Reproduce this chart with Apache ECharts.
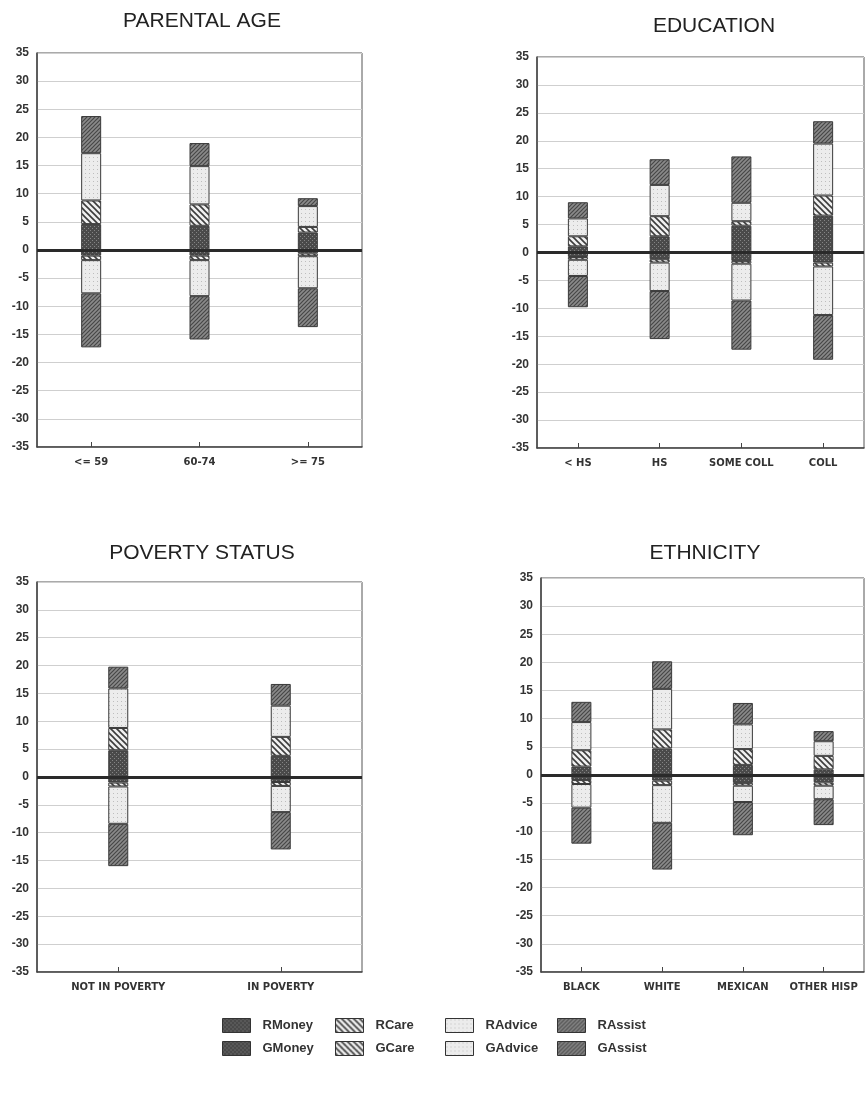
<!DOCTYPE html>
<html>
<head>
<meta charset="utf-8">
<script src="https://cdn.jsdelivr.net/npm/echarts@6/dist/echarts.min.js"></script>
<style>
html,body{margin:0;padding:0;background:#fff;}
#chart{width:865px;height:1113px;}
</style>
</head>
<body>
<div id="chart"></div>
<script>
// ---------- DATA ----------
const typeNames = ['Money', 'Care', 'Advice', 'Assist'];
const yTicks = [-35, 35, 5];

const ageCats = ['<= 59', '60-74', '>= 75'];
const ageGMoney = [4.6, 4.3, 3.1];
const ageGCare = [4.2, 3.8, 1.0];
const ageGAdvice = [8.4, 6.8, 3.7];
const ageGAssist = [6.6, 4.1, 1.4];
const ageRMoney = [-1.0, -1.0, -0.6];
const ageRCare = [-0.8, -0.8, -0.5];
const ageRAdvice = [-5.9, -6.4, -5.7];
const ageRAssist = [-9.6, -7.7, -6.9];

const eduCats = ['< HS', 'HS', 'SOME COLL', 'COLL'];
const eduGMoney = [1.1, 2.9, 4.8, 6.6];
const eduGCare = [1.8, 3.6, 0.8, 3.6];
const eduGAdvice = [3.2, 5.6, 3.3, 9.3];
const eduGAssist = [2.9, 4.6, 8.3, 4.0];
const eduRMoney = [-0.8, -1.2, -1.5, -1.8];
const eduRCare = [-0.5, -0.6, -0.5, -0.7];
const eduRAdvice = [-2.9, -5.1, -6.6, -8.7];
const eduRAssist = [-5.6, -8.6, -8.8, -8.0];

const povCats = ['NOT IN POVERTY', 'IN POVERTY'];
const povGMoney = [4.8, 3.8];
const povGCare = [4.0, 3.4];
const povGAdvice = [7.1, 5.6];
const povGAssist = [3.9, 3.9];
const povRMoney = [-1.0, -0.9];
const povRCare = [-0.7, -0.7];
const povRAdvice = [-6.7, -4.7];
const povRAssist = [-7.6, -6.7];

const ethCats = ['BLACK', 'WHITE', 'MEXICAN', 'OTHER HISP'];
const ethGMoney = [1.5, 4.7, 1.8, 1.0];
const ethGCare = [2.9, 3.4, 2.8, 2.4];
const ethGAdvice = [5.0, 7.2, 4.4, 2.6];
const ethGAssist = [3.6, 4.9, 3.8, 1.8];
const ethRMoney = [-0.9, -1.0, -1.4, -1.3];
const ethRCare = [-0.7, -0.8, -0.5, -0.6];
const ethRAdvice = [-4.2, -6.7, -2.9, -2.4];
const ethRAssist = [-6.4, -8.3, -5.9, -4.6];

const panelTitles = ['PARENTAL AGE', 'EDUCATION', 'POVERTY STATUS', 'ETHNICITY'];

// ---------- PATTERNS ----------
function makePattern(kind) {
  const c = document.createElement('canvas');
  const s = kind === 'Care' ? 6 : 4;
  c.width = s; c.height = s;
  const g = c.getContext('2d');
  if (kind === 'Money') {
    g.fillStyle = '#4a4a4a'; g.fillRect(0, 0, s, s);
    g.fillStyle = '#858585'; g.fillRect(0, 0, 1, 1); g.fillRect(2, 2, 1, 1);
  } else if (kind === 'Care') {
    g.fillStyle = '#f0f0f0'; g.fillRect(0, 0, s, s);
    g.strokeStyle = '#3c3c3c'; g.lineWidth = 1.6;
    g.beginPath();
    g.moveTo(-1, -1); g.lineTo(s + 1, s + 1);
    g.moveTo(-1, s - 1); g.lineTo(1, s + 1);
    g.moveTo(s - 1, -1); g.lineTo(s + 1, 1);
    g.stroke();
  } else if (kind === 'Advice') {
    g.fillStyle = '#ececec'; g.fillRect(0, 0, s, s);
    g.fillStyle = '#bdbdbd'; g.fillRect(1, 1, 1, 1);
  } else {
    g.fillStyle = '#8a8a8a'; g.fillRect(0, 0, s, s);
    g.strokeStyle = '#474747'; g.lineWidth = 1.2;
    g.beginPath();
    g.moveTo(-1, s + 1); g.lineTo(s + 1, -1);
    g.moveTo(-1, 1); g.lineTo(1, -1);
    g.moveTo(s - 1, s + 1); g.lineTo(s + 1, s - 1);
    g.stroke();
  }
  return { image: c, repeat: 'repeat' };
}
const patterns = {};
typeNames.forEach(t => patterns[t] = makePattern(t));

// ---------- PANELS ----------
const panels = [
  { cats: ageCats, G: [ageGMoney, ageGCare, ageGAdvice, ageGAssist], R: [ageRMoney, ageRCare, ageRAdvice, ageRAssist] },
  { cats: eduCats, G: [eduGMoney, eduGCare, eduGAdvice, eduGAssist], R: [eduRMoney, eduRCare, eduRAdvice, eduRAssist] },
  { cats: povCats, G: [povGMoney, povGCare, povGAdvice, povGAssist], R: [povRMoney, povRCare, povRAdvice, povRAssist] },
  { cats: ethCats, G: [ethGMoney, ethGCare, ethGAdvice, ethGAssist], R: [ethRMoney, ethRCare, ethRAdvice, ethRAssist] }
];
const grids = [
  { left: 37, top: 53, width: 325, height: 394 },
  { left: 537, top: 57, width: 327, height: 391 },
  { left: 37, top: 582, width: 325, height: 390 },
  { left: 541, top: 578, width: 323, height: 394 }
];
const titlePos = [
  { left: 197, top: 6 }, { left: 709, top: 11 }, { left: 197, top: 538 }, { left: 700, top: 538 }
];
const FONT = 'Liberation Sans, Arial, Helvetica, sans-serif';
const LFONT = 'DejaVu Sans, Liberation Sans, sans-serif';

const option = {
  backgroundColor: '#ffffff',
  animation: false,
  title: panelTitles.map((t, i) => ({
    text: t, left: titlePos[i].left, top: titlePos[i].top, textAlign: 'center',
    textStyle: { fontFamily: FONT, fontSize: 21, fontWeight: 'normal', color: '#222' }
  })),
  grid: grids.map(g => Object.assign({ show: true, borderColor: '#555', borderWidth: 1, backgroundColor: 'transparent' }, g)),
  xAxis: panels.map((p, i) => ({
    type: 'category', gridIndex: i, data: p.cats,
    axisLine: { show: true, onZero: false, lineStyle: { color: '#444', width: 1.5 } },
    axisTick: { show: true, alignWithLabel: true, inside: true, length: 5, lineStyle: { color: '#444' } },
    axisLabel: { fontFamily: LFONT, fontSize: 10, fontWeight: 'bold', color: '#333', margin: 10, interval: 0 },
    splitLine: { show: false }
  })),
  yAxis: panels.map((p, i) => ({
    type: 'value', gridIndex: i, min: yTicks[0], max: yTicks[1], interval: yTicks[2],
    axisLine: { show: true, lineStyle: { color: '#444', width: 1.5 } },
    axisTick: { show: false },
    axisLabel: { fontFamily: FONT, fontSize: 12, fontWeight: 'bold', color: '#333', margin: 8 },
    splitLine: { show: true, lineStyle: { color: '#cfcfcf', width: 1 } }
  })),
  legend: typeNames.map((t, k) => ({
    orient: 'vertical',
    left: [222, 335, 445, 557][k], top: 1018, padding: 0,
    itemWidth: 28, itemHeight: 14, itemGap: 8,
    icon: 'rect',
    data: ['R' + t, 'G' + t],
    selectedMode: false,
    itemStyle: { borderColor: '#333', borderWidth: 1 },
    textStyle: { fontFamily: FONT, fontSize: 13, fontWeight: 'bold', color: '#333', padding: [0, 0, 0, 7] }
  })),
  series: []
};

panels.forEach((p, i) => {
  ['G', 'R'].forEach(side => {
    typeNames.forEach((t, k) => {
      const s = {
        name: side + t, type: 'bar', stack: 'p' + i,
        xAxisIndex: i, yAxisIndex: i,
        data: p[side][k], barWidth: 20,
        itemStyle: { color: patterns[t], borderColor: '#3a3a3a', borderWidth: 1 },
        emphasis: { disabled: true }
      };
      if (side === 'G' && k === 0) {
        s.markLine = {
          silent: true, symbol: 'none', label: { show: false },
          lineStyle: { color: '#2a2a2a', width: 3, type: 'solid' },
          data: [{ yAxis: 0 }]
        };
      }
      option.series.push(s);
    });
  });
});

const chart = echarts.init(document.getElementById('chart'), null, { renderer: 'canvas' });
chart.setOption(option);
</script>
</body>
</html>
